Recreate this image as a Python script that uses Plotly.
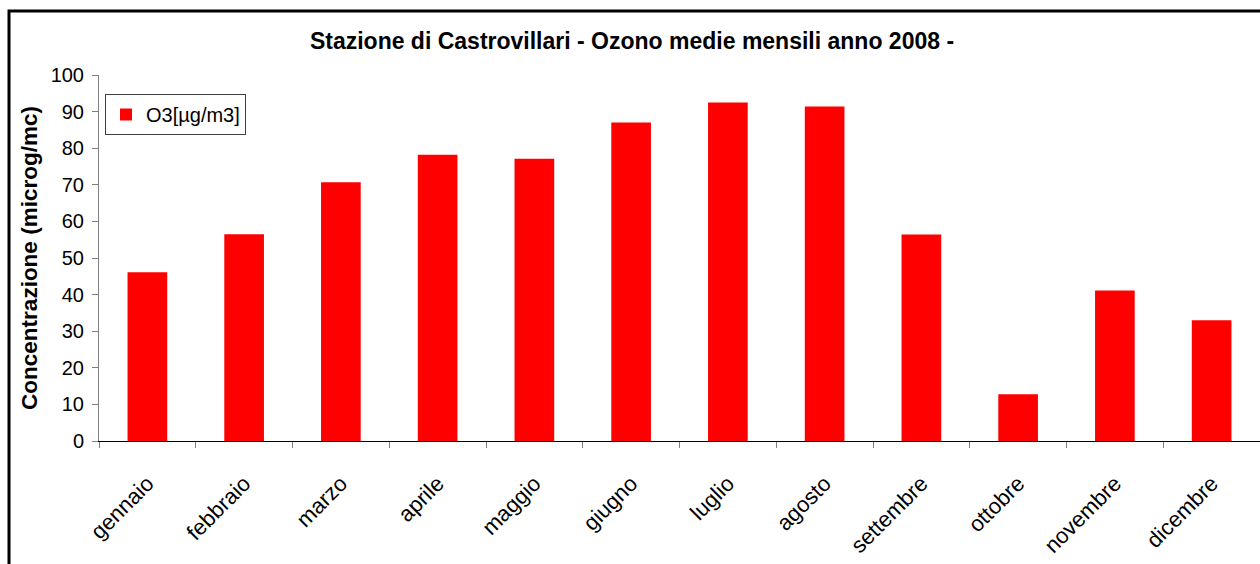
import plotly.graph_objects as go

months = ["gennaio", "febbraio", "marzo", "aprile", "maggio", "giugno",
          "luglio", "agosto", "settembre", "ottobre", "novembre", "dicembre"]
o3_values = [46.1, 56.5, 70.7, 78.2, 77.1, 87.0, 92.5, 91.4, 56.4, 12.8, 41.1, 33.0]
y_ticks = [0, 10, 20, 30, 40, 50, 60, 70, 80, 90, 100]

FONT = "Liberation Sans, Arial, sans-serif"

fig = go.Figure()
fig.add_trace(go.Bar(
    x=months, y=o3_values, name="O3[µg/m3]",
    marker=dict(color="#FF0000", line=dict(width=0)),
    showlegend=True,
))

W, H = 1260, 564
ml, mr, mt, mb = 99, 0, 75, 123
pw, ph = W - ml - mr, H - mt - mb

def px_to_paper_x(px):
    return (px - ml) / pw

def px_to_paper_y(py):
    return (H - mb - py) / ph

fig.update_layout(
    width=W, height=H,
    margin=dict(l=ml, r=mr, t=mt, b=mb, pad=0),
    paper_bgcolor="white", plot_bgcolor="white",
    font=dict(family=FONT, color="black", size=20),
    bargap=0.59,
    title=dict(text="<b>Stazione di Castrovillari - Ozono medie mensili anno 2008 -</b>",
               x=632 / W, xref="container", xanchor="center",
               y=1 - 41 / H, yanchor="middle",
               font=dict(size=23, family=FONT)),
    xaxis=dict(type="category", range=[-0.5, 11.5], tickson="boundaries",
               ticks="outside", ticklen=6, tickcolor="#808080", tickwidth=1,
               showline=True, linecolor="black", linewidth=1,
               showgrid=False, tickangle=-45, tickfont=dict(size=22),
               ticklabelstandoff=20),
    yaxis=dict(range=[0, 100], tickvals=y_ticks, ticks="outside", ticklen=6,
               tickcolor="#808080", showline=True, linecolor="#808080", linewidth=1,
               showgrid=False, zeroline=False, tickfont=dict(size=20),
               ticklabelstandoff=4,
               title=dict(text="<b>Concentrazione (microg/mc)</b>",
                          font=dict(size=22.5), standoff=6)),
    legend=dict(x=px_to_paper_x(105), y=px_to_paper_y(94), xanchor="left", yanchor="top",
                bordercolor="#404040", borderwidth=1, bgcolor="white",
                font=dict(size=20), itemwidth=30),
    shapes=[
        dict(type="rect", xref="paper", yref="paper",
             x0=px_to_paper_x(9), x1=px_to_paper_x(1270),
             y0=px_to_paper_y(580), y1=px_to_paper_y(11),
             line=dict(color="black", width=3), fillcolor="rgba(0,0,0,0)",
             layer="above"),
    ],
)

fig.write_html("out.html", config={"displayModeBar": False},
               post_script="document.body.style.margin='0';document.body.style.padding='0';")
